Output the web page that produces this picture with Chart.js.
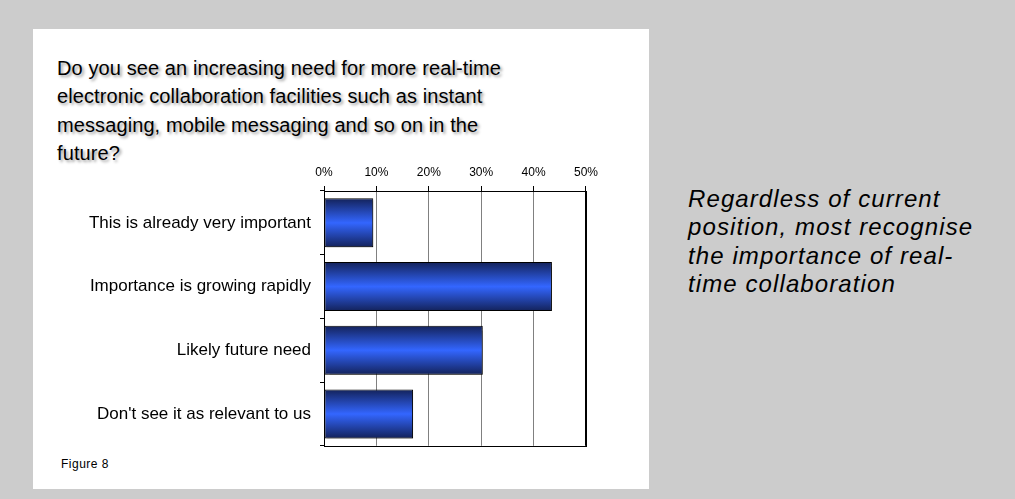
<!DOCTYPE html>
<html>
<head>
<meta charset="utf-8">
<script src="https://cdn.jsdelivr.net/npm/chart.js@4"></script>
<style>
  html, body { margin: 0; padding: 0; }
  body { width: 1015px; height: 499px; background: #cccccc; position: relative; overflow: hidden; font-family: "Liberation Sans", Arial, sans-serif; }
  #panel { position: absolute; left: 33px; top: 29px; width: 616px; height: 460px; background: #ffffff; }
  #title { position: absolute; left: 57px; top: 54px; font-size: 20px; line-height: 28.33px; color: #000; text-shadow: 2px 2px 3px rgba(0,0,0,0.4); white-space: nowrap; letter-spacing: 0.1px; }
  #side { position: absolute; left: 688px; top: 185px; font-size: 24px; line-height: 28.33px; font-style: italic; color: #000; letter-spacing: 1.1px; white-space: nowrap; }
  #fig { position: absolute; left: 61px; top: 457px; font-size: 12px; line-height: 14px; letter-spacing: 0.5px; color: #000; }
  #wrap { position: absolute; left: 40px; top: 150px; width: 564px; height: 315px; }
</style>
</head>
<body>
<div id="panel"></div>
<div id="title">Do you see an increasing need for more real-time<br>electronic collaboration facilities such as instant<br>messaging, mobile messaging and so on in the<br>future?</div>
<div id="side">Regardless of current<br>position, most recognise<br>the importance of real-<br>time collaboration</div>
<div id="fig">Figure 8</div>
<div id="wrap"><canvas id="c" width="564" height="315"></canvas></div>
<script>
const categories = [
  "This is already very important",
  "Importance is growing rapidly",
  "Likely future need",
  "Don't see it as relevant to us"
];
const values = [9.4, 43.5, 30.3, 17.0];
const tickValues = [0, 10, 20, 30, 40, 50];

const BAR_PCT = 0.77;

function barGradient(ctx) {
  const chart = ctx.chart;
  const y = chart.scales && chart.scales.y;
  if (!y || ctx.dataIndex === undefined) return '#3366ff';
  const c = y.getPixelForValue(ctx.dataIndex);
  const band = (y.bottom - y.top) / categories.length;
  const half = band * BAR_PCT / 2;
  if (!isFinite(c) || !isFinite(half) || half <= 0) return '#3366ff';
  const g = chart.ctx.createLinearGradient(0, c - half, 0, c + half);
  g.addColorStop(0, '#13225a');
  g.addColorStop(0.5, '#3366ff');
  g.addColorStop(1, '#13225a');
  return g;
}

const framePlugin = {
  id: 'frame',
  beforeDatasetsDraw(chart) {
    const a = chart.chartArea, ctx = chart.ctx;
    ctx.save();
    ctx.strokeStyle = '#000';
    ctx.lineWidth = 1;
    ctx.strokeRect(Math.round(a.left) + 0.5, Math.round(a.top) + 0.5, Math.round(a.right - a.left), Math.round(a.bottom - a.top));
    ctx.restore();
    ctx.save();
    ctx.shadowColor = 'rgba(0,0,0,0.3)';
    ctx.shadowOffsetX = 2;
    ctx.shadowOffsetY = 2;
    ctx.shadowBlur = 1;
  },
  afterDatasetsDraw(chart) {
    chart.ctx.restore();
  }
};

new Chart(document.getElementById('c'), {
  type: 'bar',
  data: {
    labels: categories,
    datasets: [{
      data: values,
      backgroundColor: barGradient,
      borderColor: '#000',
      borderWidth: 1,
      borderSkipped: false,
      barPercentage: BAR_PCT,
      categoryPercentage: 1.0
    }]
  },
  options: {
    indexAxis: 'y',
    responsive: false,
    animation: false,
    events: [],
    layout: { padding: { left: 0, right: 15, top: 0, bottom: 15 } },
    plugins: { legend: { display: false }, tooltip: { enabled: false }, title: { display: false } },
    scales: {
      x: {
        position: 'top',
        min: 0,
        max: 50,
        afterBuildTicks(scale) { scale.ticks = tickValues.map(v => ({ value: v })); },
        afterFit(scale) { scale.height = 41; },
        ticks: {
          callback: (v) => v + '%',
          color: '#000',
          font: { family: "'Liberation Sans', Arial, sans-serif", size: 12 },
          padding: 6,
          maxRotation: 0
        },
        grid: {
          drawOnChartArea: true,
          drawTicks: true,
          tickLength: 5,
          tickColor: '#000',
          color: (ctx) => (ctx.tick && (ctx.tick.value === 0 || ctx.tick.value === 50)) ? '#000' : '#808080',
          lineWidth: 1
        },
        border: { display: true, color: '#000', width: 1 }
      },
      y: {
        afterFit(scale) { scale.width = 284; },
        ticks: {
          color: '#000',
          font: { family: "'Liberation Sans', Arial, sans-serif", size: 17 },
          padding: 9,
          autoSkip: false
        },
        grid: {
          offset: true,
          drawOnChartArea: false,
          drawTicks: true,
          tickLength: 4,
          tickColor: '#000',
          color: '#000'
        },
        border: { display: true, color: '#000', width: 1 }
      }
    }
  },
  plugins: [framePlugin]
});
</script>
</body>
</html>
